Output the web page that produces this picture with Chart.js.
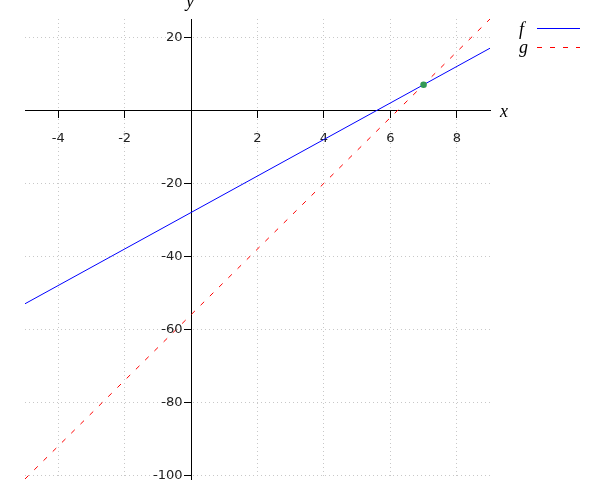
<!DOCTYPE html>
<html>
<head>
<meta charset="utf-8">
<script src="https://cdn.jsdelivr.net/npm/chart.js@4.4.1/dist/chart.umd.min.js"></script>
<style>
html,body{margin:0;padding:0;background:#fff;}
#wrap{width:600px;height:500px;}
</style>
</head>
<body>
<div id="wrap"><canvas id="c" width="600" height="500"></canvas></div>
<script>
// Data
const xRange = [-5, 9];
const yRange = [-101, 25];
const fX = [-5, 9];
const fY = [-53, 17];
const gX = [-5, 9];
const gY = [-101, 25];
const pointX = [7];
const pointY = [7];
const xTicks = [-4, -2, 0, 2, 4, 6, 8];
const yTicks = [-100, -80, -60, -40, -20, 0, 20];
const seriesNames = ['f', 'g'];

const toPts = (xs, ys) => xs.map((x, i) => ({x: x, y: ys[i]}));

const decor = {
  id: 'decor',
  afterDraw(chart) {
    const ctx = chart.ctx;
    const a = chart.chartArea;
    const xs = chart.scales.x, ys = chart.scales.y;
    const x0 = xs.getPixelForValue(0);
    ctx.save();
    // y tick labels (left of the centred y axis)
    ctx.fillStyle = '#222';
    ctx.font = '13px "DejaVu Sans", sans-serif';
    ctx.textAlign = 'right';
    ctx.textBaseline = 'middle';
    yTicks.forEach(v => {
      if (v === 0) return;
      ctx.fillText(String(v), x0 - 8.5, ys.getPixelForValue(v));
    });
    // axis names
    ctx.fillStyle = '#000';
    ctx.font = 'italic 18px "Liberation Serif", "DejaVu Serif", serif';
    ctx.textAlign = 'left';
    ctx.textBaseline = 'alphabetic';
    ctx.fillText('x', a.right + 10, ys.getPixelForValue(0) + 7);
    ctx.textAlign = 'center';
    ctx.fillText('y', x0 - 1, a.top - 12);
    // legend
    const lx = 519, lineX1 = 537, lineX2 = 580;
    const rows = [
      {name: seriesNames[0], base: 35, ly: 28.5, color: '#0000ff', dash: []},
      {name: seriesNames[1], base: 53, ly: 47.5, color: '#ff0000', dash: [5, 8]}
    ];
    rows.forEach(r => {
      ctx.textAlign = 'left';
      ctx.fillStyle = '#000';
      ctx.fillText(r.name, lx, r.base);
      ctx.beginPath();
      ctx.setLineDash(r.dash);
      ctx.strokeStyle = r.color;
      ctx.lineWidth = 1;
      ctx.moveTo(lineX1, r.ly);
      ctx.lineTo(lineX2, r.ly);
      ctx.stroke();
    });
    ctx.restore();
  }
};

new Chart(document.getElementById('c'), {
  type: 'scatter',
  data: {
    datasets: [
      {label: seriesNames[0], data: toPts(fX, fY), showLine: true, borderColor: '#0000ff', borderWidth: 1, pointRadius: 0, fill: false, order: 2},
      {label: seriesNames[1], data: toPts(gX, gY), showLine: true, borderColor: '#ff0000', borderWidth: 1, borderDash: [5, 8], pointRadius: 0, fill: false, order: 3},
      {label: 'P', data: toPts(pointX, pointY), showLine: false, pointRadius: 3.3, pointBackgroundColor: '#339955', pointBorderColor: '#339955', pointBorderWidth: 0, order: 1}
    ]
  },
  options: {
    responsive: false,
    animation: false,
    devicePixelRatio: 1,
    layout: {padding: {left: 25, right: 110, top: 19, bottom: 21}},
    plugins: {legend: {display: false}, tooltip: {enabled: false}},
    scales: {
      x: {
        type: 'linear',
        min: xRange[0], max: xRange[1],
        position: {y: 0},
        afterBuildTicks: s => { s.ticks = xTicks.map(v => ({value: v})); },
        ticks: {
          includeBounds: false,
          padding: 14,
          color: '#222',
          font: {family: 'DejaVu Sans', size: 13},
          maxRotation: 0,
          autoSkip: false,
          callback: v => v === 0 ? '' : String(v)
        },
        grid: {color: '#c8c8c8', lineWidth: 1, tickLength: 7, tickColor: '#000', drawTicks: true},
        border: {display: true, color: '#000', width: 1, dash: [1, 3]}
      },
      y: {
        type: 'linear',
        min: yRange[0], max: yRange[1],
        position: {x: 0},
        afterBuildTicks: s => { s.ticks = yTicks.map(v => ({value: v})); },
        ticks: {
          display: false,
          includeBounds: false,
          autoSkip: false
        },
        grid: {color: '#c8c8c8', lineWidth: 1, tickLength: 7, tickColor: '#000', drawTicks: true},
        border: {display: true, color: '#000', width: 1, dash: [1, 3]}
      }
    }
  },
  plugins: [decor]
});
</script>
</body>
</html>
